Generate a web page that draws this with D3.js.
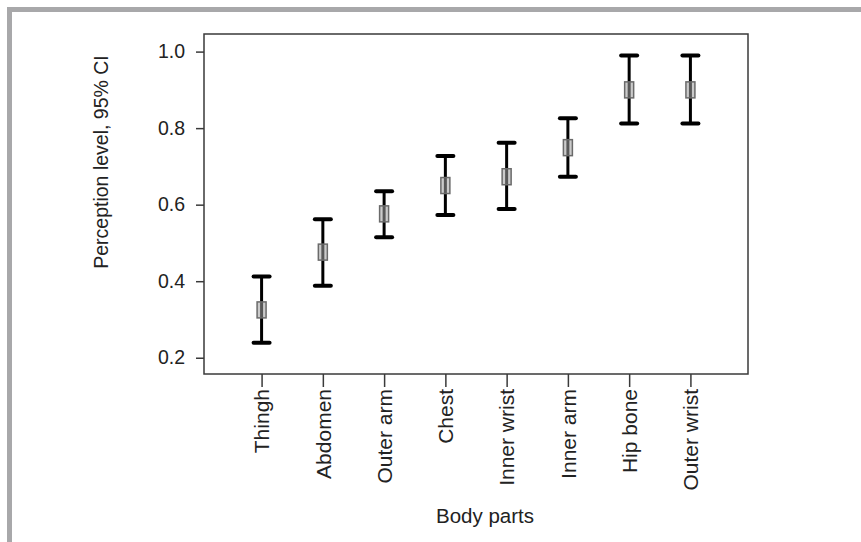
<!DOCTYPE html>
<html>
<head>
<meta charset="utf-8">
<script src="https://cdn.jsdelivr.net/npm/d3@7"></script>
<style>
  html, body { margin: 0; padding: 0; background: #fff; }
  svg { display: block; }
  text { font-family: "Liberation Sans", Arial, sans-serif; fill: #222; }
</style>
</head>
<body>
<div id="chart"></div>
<script>
const categories = ["Thingh", "Abdomen", "Outer arm", "Chest", "Inner wrist", "Inner arm", "Hip bone", "Outer wrist"];
const means = [0.325, 0.476, 0.576, 0.650, 0.673, 0.749, 0.900, 0.900];
const lower = [0.239, 0.388, 0.515, 0.573, 0.589, 0.673, 0.812, 0.812];
const upper = [0.412, 0.562, 0.635, 0.727, 0.762, 0.826, 0.990, 0.990];
const yTicks = [0.2, 0.4, 0.6, 0.8, 1.0];
const xTitle = "Body parts";
const yTitle = "Perception level, 95% CI";

const W = 861, H = 542;
const plot = { left: 204, top: 34, right: 748, bottom: 374 };

const svg = d3.select("#chart").append("svg").attr("width", W).attr("height", H);

// outer gray frame
svg.append("rect").attr("x", 9.5).attr("y", 9.5).attr("width", W).attr("height", H)
  .attr("fill", "#fff").attr("stroke", "#a8a8aa").attr("stroke-width", 5);

const x = d3.scalePoint().domain(categories).range([plot.left, plot.right]).padding(0.94);
const y = d3.scaleLinear().domain([0.1575, 1.046]).range([plot.bottom, plot.top]);

// plot box
svg.append("rect")
  .attr("x", plot.left).attr("y", plot.top)
  .attr("width", plot.right - plot.left).attr("height", plot.bottom - plot.top)
  .attr("fill", "none").attr("stroke", "#3a3a3a").attr("stroke-width", 1.5);

// y axis
const yAxis = svg.append("g").attr("transform", `translate(${plot.left},0)`)
  .call(d3.axisLeft(y).tickValues(yTicks).tickFormat(d3.format(".1f")).tickSize(8).tickPadding(11));
yAxis.select(".domain").remove();
yAxis.selectAll(".tick line").attr("stroke", "#3a3a3a").attr("stroke-width", 1.5);
yAxis.selectAll(".tick text").attr("font-size", 19.5).attr("fill", "#222")
  .style("font-family", "'Liberation Sans', Arial, sans-serif");

// x axis
const xAxis = svg.append("g").attr("transform", `translate(0,${plot.bottom})`)
  .call(d3.axisBottom(x).tickSize(13).tickPadding(2));
xAxis.select(".domain").remove();
xAxis.selectAll(".tick line").attr("stroke", "#3a3a3a").attr("stroke-width", 1.5);
xAxis.selectAll(".tick text")
  .attr("font-size", 21).attr("fill", "#222")
  .style("font-family", "'Liberation Sans', Arial, sans-serif")
  .attr("text-anchor", "end")
  .attr("dy", "0.35em")
  .attr("transform", "rotate(-90)")
  .attr("x", -15).attr("y", 0);

// titles
svg.append("text").attr("x", 485).attr("y", 523).attr("text-anchor", "middle")
  .attr("font-size", 20.5).text(xTitle);
svg.append("text").attr("transform", "translate(108,162) rotate(-90)").attr("text-anchor", "middle")
  .attr("font-size", 19.5).text(yTitle);

// error bars
const data = categories.map((c, i) => ({ c, m: means[i], lo: lower[i], hi: upper[i] }));
const g = svg.append("g");
const capW = 8;
g.selectAll("line.v").data(data).join("line").attr("class", "v")
  .attr("x1", d => x(d.c)).attr("x2", d => x(d.c))
  .attr("y1", d => y(d.lo)).attr("y2", d => y(d.hi))
  .attr("stroke", "#000").attr("stroke-width", 3);
g.selectAll("line.capHi").data(data).join("line").attr("class", "capHi")
  .attr("x1", d => x(d.c) - capW).attr("x2", d => x(d.c) + capW)
  .attr("y1", d => y(d.hi)).attr("y2", d => y(d.hi))
  .attr("stroke", "#000").attr("stroke-width", 4).attr("stroke-linecap", "round");
g.selectAll("line.capLo").data(data).join("line").attr("class", "capLo")
  .attr("x1", d => x(d.c) - capW).attr("x2", d => x(d.c) + capW)
  .attr("y1", d => y(d.lo)).attr("y2", d => y(d.lo))
  .attr("stroke", "#000").attr("stroke-width", 4).attr("stroke-linecap", "round");
g.selectAll("rect.m").data(data).join("rect").attr("class", "m")
  .attr("x", d => x(d.c) - 4.5).attr("y", d => y(d.m) - 8)
  .attr("width", 9).attr("height", 16)
  .attr("fill", "rgba(160,160,160,0.55)").attr("stroke", "#6a6a6a").attr("stroke-width", 1.5);
</script>
</body>
</html>
